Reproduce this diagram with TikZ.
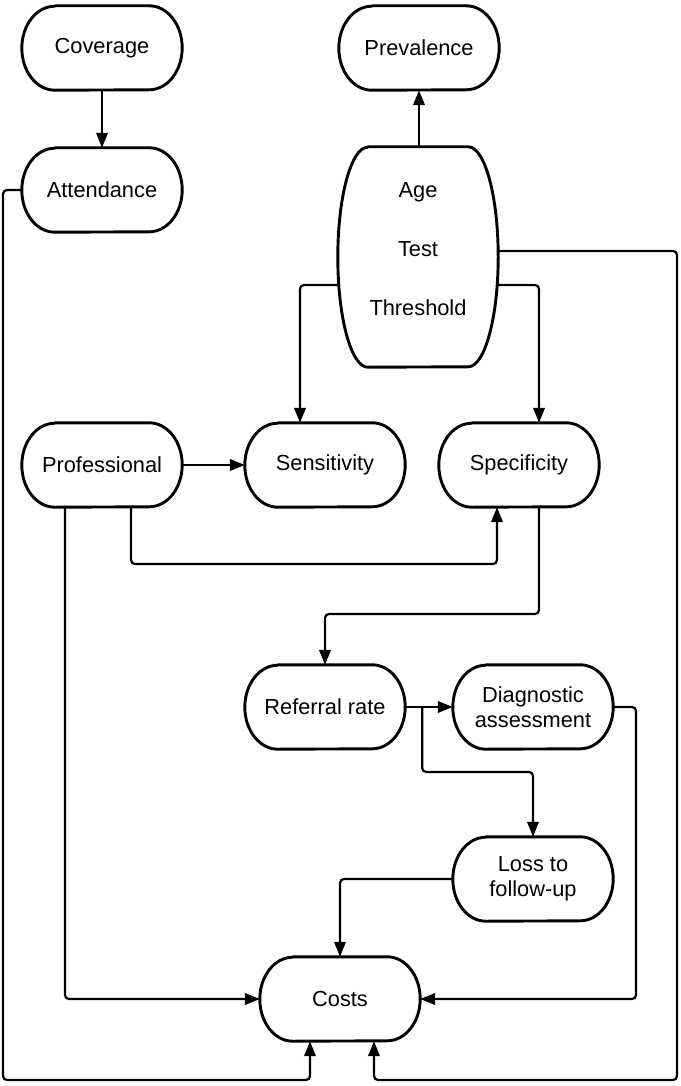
\documentclass[tikz,border=0pt]{standalone}
\usepackage{fontspec}
\setmainfont{Liberation Sans}
\usetikzlibrary{arrows.meta,calc}
\tikzset{
  pill/.style={minimum width=160pt, minimum height=84pt, inner sep=0pt, align=center, font=\fontsize{21.8}{25}\selectfont},
  barrel/.style={minimum width=160pt, minimum height=220pt, inner sep=0pt},
  txt/.style={inner sep=0pt, align=center, font=\fontsize{21.8}{25}\selectfont},
  border/.style={line width=2.9pt, line join=round},
  conn/.style={line width=2.2pt, rounded corners=4pt, -{Triangle[length=15pt,width=11.5pt]}},
}
\newcommand\drawpill[3]{%
  \draw[border] ([xshift=#2]#1.north west) -- ([xshift=-#2]#1.north east)
    arc[start angle=90,end angle=-90,x radius=#2,y radius=#3]
    -- ([xshift=#2]#1.south west)
    arc[start angle=270,end angle=90,x radius=#2,y radius=#3] -- cycle;}
\begin{document}
\begin{tikzpicture}[x=1pt,y=-1pt]
\fill[white] (0,0) rectangle (680,1086);
\useasboundingbox (0,0) rectangle (680,1086);
% nodes
\node[pill] (cov)  at (102,48)  {Coverage};
\node[pill] (prev) at (419,48)  {Prevalence};
\node[pill] (att)  at (102,190) {Attendance};
\node[barrel] (age) at (418,257) {};
\node[txt] (agetxt) at (418,249) {Age\\[34pt]Test\\[34pt]Threshold};
\node[pill] (prof) at (102,465) {Professional};
\node[pill] (sens) at (325,465) {Sensitivity};
\node[pill] (spec) at (519,465) {Specificity};
\node[pill] (ref)  at (325,707) {Referral rate};
\node[pill] (diag) at (533,707) {Diagnostic\\assessment};
\node[pill] (loss) at (533,879) {Loss to\\follow-up};
\node[pill] (costs) at (340,999) {Costs};
\foreach \n in {cov,prev,att,prof,sens,spec,ref,diag,loss,costs}{\drawpill{\n}{33pt}{42pt}}
\drawpill{age}{30pt}{110pt}
% bend coordinates
\coordinate (bl) at (3,1080);
\coordinate (br) at (677,1080);
\coordinate (m1) at (497,564);
\coordinate (m2) at (325,614);
\coordinate (m3) at (533,772);
\coordinate (rx) at (636,0);
\coordinate (j1) at ([xshift=17pt]ref.east);
% connectors
\draw[conn] (cov.south) -- (att.north);
\draw[conn] (age.north -| prev.south) -- (prev.south);
\draw[conn] ([yshift=-28pt]age.west) -| ([xshift=-25pt]sens.north);
\draw[conn] ([yshift=-28pt]age.east) -| ([xshift=20pt]spec.north);
\draw[conn] ([yshift=6pt]age.east) -| (br) -| ([xshift=34pt]costs.south);
\draw[conn] (att.west) -| (bl) -| ([xshift=-30pt]costs.south);
\draw[conn] (prof.east) -- (sens.west);
\draw[conn] ([xshift=29pt]prof.south) |- (m1) -- ([xshift=-22pt]spec.south);
\draw[conn] ([xshift=-37pt]prof.south) |- (costs.west);
\draw[conn] ([xshift=20pt]spec.south) |- (m2) -- (ref.north);
\draw[conn] (ref.east) -- (diag.west);
\draw[conn] (j1) |- (m3) -- (loss.north);
\draw[conn] (diag.east) -| (rx |- costs.east) -- (costs.east);
\draw[conn] (loss.west) -| (costs.north);
\end{tikzpicture}
\end{document}
